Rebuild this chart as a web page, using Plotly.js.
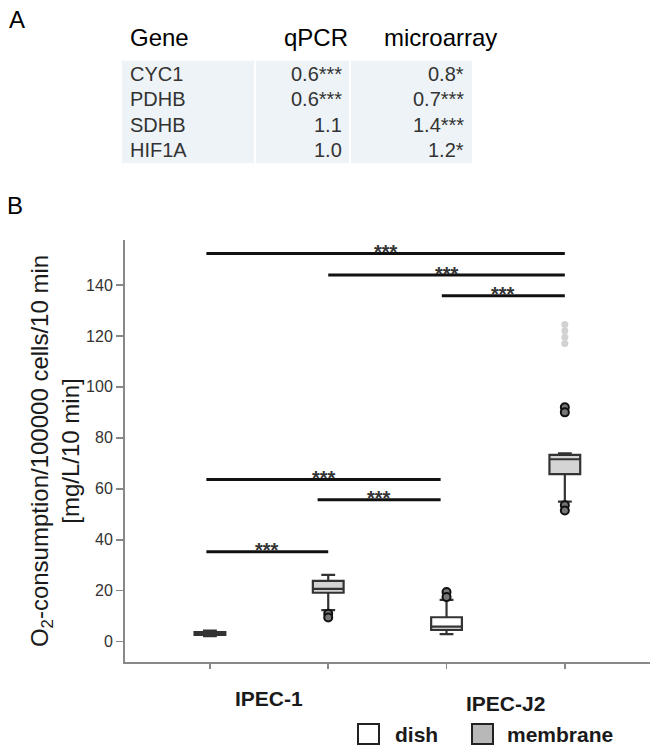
<!DOCTYPE html>
<html>
<head>
<meta charset="utf-8">
<script src="https://cdn.plot.ly/plotly-3.0.1.min.js"></script>
<style>html,body{margin:0;padding:0;background:#fff;}#chart{width:655px;height:750px;}</style>
</head>
<body>
<div id="chart"></div>
<script>
// ---------- Panel A: table data ----------
const tableHeaders = ['Gene', 'qPCR', 'microarray'];
const genes = ['CYC1', 'PDHB', 'SDHB', 'HIF1A'];
const qpcrValues = ['0.6***', '0.6***', '1.1', '1.0'];
const microarrayValues = ['0.8*', '0.7***', '1.4***', '1.2*'];

// ---------- Panel B: box plot data ----------
const cellLines = ['IPEC-1', 'IPEC-J2'];
const conditions = ['dish', 'membrane'];
// group positions: dish IPEC-1, membrane IPEC-1, dish IPEC-J2, membrane IPEC-J2
const dishPos = [0, 2];
const membranePos = [1, 3];
const cellLinePos = [[0, 1], [2, 3]];

const dishQ1 = [2.7, 4.6];
const dishMedian = [3.2, 5.9];
const dishQ3 = [3.8, 9.6];
const dishLower = [2.2, 3.0];
const dishUpper = [4.4, 16.4];

const membraneQ1 = [19.2, 65.8];
const membraneMedian = [20.7, 71.6];
const membraneQ3 = [23.9, 73.3];
const membraneLower = [12.4, 55.0];
const membraneUpper = [26.2, 73.9];

const outlierX = [2, 2, 1, 1, 3, 3, 3, 3];
const outlierY = [19.5, 17.5, 11.0, 9.5, 53.5, 51.5, 92.0, 90.0];
const extremeX = [3, 3, 3, 3];
const extremeY = [124.5, 122.0, 119.5, 117.0];

// significance brackets
const sigFrom = [-0.03, 1.0, 1.96, -0.03, 0.91, -0.03];
const sigTo = [3.0, 3.0, 3.0, 1.95, 1.95, 1.0];
const sigY = [152.4, 143.9, 135.8, 63.7, 55.7, 35.3];
const sigLabel = ['***', '***', '***', '***', '***', '***'];

const yTickVals = [0, 20, 40, 60, 80, 100, 120, 140];

// ---------- layout helpers (pixel -> paper) ----------
const ML = 125, MR = 5, MT = 240, MB = 88;
const W = 655, H = 750;
const PW = W - ML - MR, PH = H - MT - MB;
const px = x => (x - ML) / PW;
const py = y => (H - MB - y) / PH;

const FONT = 'Liberation Sans, Arial, sans-serif';

const traces = [];

traces.push({
  type: 'box', name: conditions[0], x: dishPos,
  q1: dishQ1, median: dishMedian, q3: dishQ3,
  lowerfence: dishLower, upperfence: dishUpper,
  boxpoints: false, width: 0.26, whiskerwidth: 0.45,
  fillcolor: '#ffffff', line: {color: '#333333', width: 2.2},
  showlegend: false, hoverinfo: 'skip'
});
traces.push({
  type: 'box', name: conditions[1], x: membranePos,
  q1: membraneQ1, median: membraneMedian, q3: membraneQ3,
  lowerfence: membraneLower, upperfence: membraneUpper,
  boxpoints: false, width: 0.26, whiskerwidth: 0.45,
  fillcolor: '#d4d4d4', line: {color: '#333333', width: 2.2},
  showlegend: false, hoverinfo: 'skip'
});
traces.push({
  type: 'scatter', mode: 'markers', x: outlierX, y: outlierY,
  marker: {symbol: 'circle', size: 8, color: '#777777', line: {color: '#111111', width: 2}},
  showlegend: false, hoverinfo: 'skip'
});
traces.push({
  type: 'scatter', mode: 'markers', x: extremeX, y: extremeY,
  marker: {symbol: 'circle', size: 7, color: '#d2d2d2'},
  showlegend: false, hoverinfo: 'skip'
});
for (let i = 0; i < sigY.length; i++) {
  traces.push({
    type: 'scatter', mode: 'lines',
    x: [sigFrom[i], sigTo[i]], y: [sigY[i], sigY[i]],
    line: {color: '#111111', width: 3},
    showlegend: false, hoverinfo: 'skip'
  });
}

const annotations = [];
const shapes = [];

// panel letters
annotations.push({xref: 'paper', yref: 'paper', x: px(7), y: py(19), xanchor: 'left', yanchor: 'middle',
  text: 'A', showarrow: false, font: {family: FONT, size: 24, color: '#000'}});
annotations.push({xref: 'paper', yref: 'paper', x: px(5), y: py(206), xanchor: 'left', yanchor: 'middle',
  text: 'B', showarrow: false, font: {family: FONT, size: 24, color: '#000'}});

// table background + separators
shapes.push({type: 'rect', xref: 'paper', yref: 'paper', x0: px(122), x1: px(472), y0: py(60.7), y1: py(163),
  fillcolor: '#eef3f7', line: {width: 0}, layer: 'below'});
[255, 350].forEach(xx => shapes.push({type: 'line', xref: 'paper', yref: 'paper', x0: px(xx), x1: px(xx),
  y0: py(60.7), y1: py(163), line: {color: '#ffffff', width: 2}, layer: 'below'}));

// table header
const headerX = [128, 350, 382];
const headerAnchor = ['left', 'right', 'left'];
tableHeaders.forEach((h, i) => annotations.push({xref: 'paper', yref: 'paper', x: px(headerX[i]), y: py(37),
  xanchor: headerAnchor[i], yanchor: 'middle', text: h, showarrow: false,
  font: {family: FONT, size: 24, color: '#000'}}));

// table body
const rowY0 = 73.5, rowH = 25.6;
genes.forEach((g, i) => {
  const yy = py(rowY0 + i * rowH);
  annotations.push({xref: 'paper', yref: 'paper', x: px(128), y: yy, xanchor: 'left', yanchor: 'middle',
    text: g, showarrow: false, font: {family: FONT, size: 20, color: '#333'}});
  annotations.push({xref: 'paper', yref: 'paper', x: px(344), y: yy, xanchor: 'right', yanchor: 'middle',
    text: qpcrValues[i], showarrow: false, font: {family: FONT, size: 20, color: '#333'}});
  annotations.push({xref: 'paper', yref: 'paper', x: px(466), y: yy, xanchor: 'right', yanchor: 'middle',
    text: microarrayValues[i], showarrow: false, font: {family: FONT, size: 20, color: '#333'}});
});

// significance stars
for (let i = 0; i < sigY.length; i++) {
  annotations.push({xref: 'x', yref: 'y', x: (sigFrom[i] + sigTo[i]) / 2, y: sigY[i],
    xanchor: 'center', yanchor: 'middle', yshift: 1.5, text: '<b>' + sigLabel[i] + '</b>', showarrow: false,
    font: {family: FONT, size: 20, color: '#333'}});
}

// cell line labels
const cellLabelY = [698, 703];
cellLines.forEach((c, i) => annotations.push({xref: 'x', yref: 'paper',
  x: (cellLinePos[i][0] + cellLinePos[i][1]) / 2, y: py(cellLabelY[i]),
  xanchor: 'center', yanchor: 'middle', text: '<b>' + c + '</b>', showarrow: false,
  font: {family: FONT, size: 21, color: '#1a1a1a'}}));

// legend (custom)
const legSquareX = [358, 472];
const legFill = ['#ffffff', '#b8b8b8'];
const legTextX = [393, 505];
conditions.forEach((c, i) => {
  shapes.push({type: 'rect', xref: 'paper', yref: 'paper', x0: px(legSquareX[i]), x1: px(legSquareX[i] + 21),
    y0: py(744), y1: py(724), fillcolor: legFill[i], line: {color: '#222', width: 2}});
  annotations.push({xref: 'paper', yref: 'paper', x: px(legTextX[i]), y: py(734), xanchor: 'left', yanchor: 'middle',
    text: '<b>' + c + '</b>', showarrow: false, font: {family: FONT, size: 21, color: '#1a1a1a'}});
});

const layout = {
  width: W, height: H,
  margin: {l: ML, r: MR, t: MT, b: MB, pad: 0},
  paper_bgcolor: '#ffffff', plot_bgcolor: '#ffffff',
  font: {family: FONT, color: '#333'},
  showlegend: false,
  xaxis: {
    range: [-0.718, 3.72], tickvals: [0, 1, 2, 3], showticklabels: false,
    ticks: 'outside', ticklen: 5, tickwidth: 1.5, tickcolor: '#888',
    showline: true, linecolor: '#888', linewidth: 2, showgrid: false, zeroline: false
  },
  yaxis: {
    range: [-7.97, 157.65], tickvals: yTickVals,
    ticks: 'outside', ticklen: 7, tickwidth: 1.5, tickcolor: '#888',
    tickfont: {family: FONT, size: 16, color: '#333'},
    showline: true, linecolor: '#888', linewidth: 2, showgrid: false, zeroline: false,
    title: {text: 'O<sub>2</sub>-consumption/100000 cells/10 min<br>[mg/L/10 min]',
      font: {family: FONT, size: 24, color: '#1a1a1a'}}
  },
  annotations: annotations,
  shapes: shapes
};

Plotly.newPlot('chart', traces, layout, {displayModeBar: false, staticPlot: true});
</script>
</body>
</html>
